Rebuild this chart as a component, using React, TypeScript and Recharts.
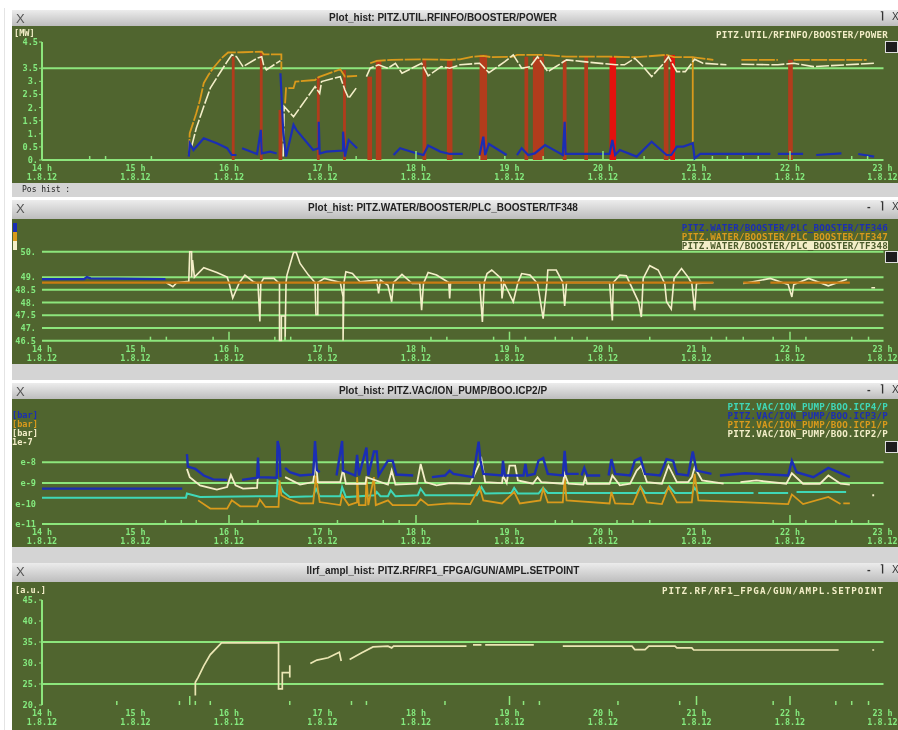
import { CartesianGrid, Line, LineChart, ReferenceArea, XAxis, YAxis } from 'recharts';

type Pt = [number, number | null];

const hours = [14, 15, 16, 17, 18, 19, 20, 21, 22, 23];
const dateLabel = '1.8.12';

// booster power [MW]
const powerTicks = [0, 0.5, 1, 1.5, 2, 2.5, 3, 3.5, 4.5];
const powerMinor = [14.51, 14.68, 15.17, 17.36, 18.68, 18.95, 19.36, 20.44, 21.17, 21.33, 21.5, 21.66, 22.66, 22.83];
const powerMajor = [18, 20, 22];
const brownPulses: [number, number, number][] = [
    [16.03, 16.06, 3.94], [16.33, 16.36, 4.13], [16.53, 16.57, 1.91], [16.94, 16.97, 3.18], [17.22, 17.25, 3.43],
    [17.48, 17.53, 3.18], [17.57, 17.63, 3.82], [18.07, 18.11, 3.82], [18.33, 18.39, 3.82], [18.68, 18.76, 4.01],
    [19.16, 19.2, 3.94], [19.25, 19.37, 3.94], [19.57, 19.61, 3.82], [19.8, 19.84, 3.94], [20.65, 20.7, 4.01],
    [21.98, 22.03, 3.82],
];
const brightPulses: [number, number, number][] = [[20.07, 20.14, 3.94], [20.72, 20.77, 4.01]];
const powerOrange: Pt[] = [
    [15.57, 0.19], [15.58, 1.02], [15.65, 1.78], [15.69, 2.29], [15.73, 2.93], [15.78, 3.24], [15.83, 3.5], [15.92, 3.88],
    [15.99, 4.1], [16.15, 4.11], [16.35, 4.13], [16.37, 4.03], [16.56, 4.03], [16.56, 3.44], [16.58, null],
    [16.6, 2.16], [16.61, 2.74], [16.69, 2.74], [16.71, 2.99], [16.92, 3.05], [16.96, 3.16], [17.19, 3.46], [17.24, 3.18],
    [17.37, 3.21], [17.4, null],
    [17.51, 3.69], [17.58, 3.78], [17.74, 3.82], [18.06, 3.84], [18.36, 3.82], [18.47, 3.84], [18.61, 3.94], [18.72, 3.97],
    [18.81, 3.92], [19.04, 3.94], [19.08, 4.01], [19.36, 4.01], [19.61, 3.94], [20.07, 3.94], [20.36, 3.92], [20.68, 4.01],
    [20.76, 3.92], [20.96, 3.92], [20.96, 0.7], [20.96, 3.92], [21.18, 3.82], [21.3, null],
    [21.48, 3.82], [21.87, 3.82], [21.9, null],
    [22.04, 3.82], [22.82, 3.82],
];
const powerCream: Pt[] = [
    [15.6, 0.51], [15.65, 1.21], [15.73, 2.04], [15.8, 2.74], [15.9, 3.31], [15.98, 3.75], [16.03, 4.01], [16.08, 3.94],
    [16.15, 3.56], [16.3, 3.88], [16.35, 3.94], [16.37, 3.63], [16.4, 3.44], [16.55, 3.79], [16.57, null],
    [16.58, 0.13], [16.59, 2.04], [16.69, 1.65], [16.92, 2.8], [16.97, 2.54], [16.99, 2.99], [17.19, 3.18], [17.24, 2.67],
    [17.28, 2.35], [17.36, 2.74], [17.4, null],
    [17.47, 3.18], [17.51, 3.5], [17.6, 3.63], [17.7, 3.5], [17.78, 3.69], [17.85, 3.31], [18.06, 3.69], [18.13, 3.21],
    [18.27, 3.56], [18.36, 3.5], [18.47, 3.63], [18.68, 3.69], [18.78, 3.33], [18.95, 3.75], [19.04, 4.01], [19.13, 3.5],
    [19.22, 3.56], [19.3, 3.94], [19.41, 3.37], [19.61, 3.82], [19.79, 3.75], [20.14, 3.63], [20.23, 3.63], [20.34, 3.88],
    [20.43, 3.56], [20.52, 3.18], [20.65, 3.69], [20.7, 3.94], [20.79, 3.37], [20.88, 3.37], [20.98, 3.84], [21.07, 3.69],
    [21.32, 3.63], [21.4, null],
    [21.48, 3.65], [21.87, 3.63], [22.04, 3.69], [22.25, 3.56], [22.9, 3.69],
];
const powerBlue: Pt[] = [
    [15.57, 0.13], [15.58, 0.64], [15.62, 0.38], [15.73, 0.83], [15.87, 0.64], [15.98, 0.45], [16.03, 0.19], [16.08, 0.19],
    [16.1, null],
    [16.14, 0.45], [16.3, 0.23], [16.34, 1.15], [16.35, 0.25], [16.44, 0.32], [16.51, 0.25], [16.53, null],
    [16.55, 3.31], [16.58, 1.08], [16.61, 0.13], [16.69, 1.34], [16.72, 1.15], [16.9, 0.38], [16.96, 0.45], [16.96, 1.46],
    [16.97, 0.25], [17.04, 0.32], [17.22, 0.36], [17.22, 1.08], [17.24, 0.13], [17.28, 0.76], [17.37, 0.45], [17.5, null],
    [17.76, 0.19], [17.83, 0.45], [18.01, 0.25], [18.08, 0.19], [18.13, 0.55], [18.26, 0.32], [18.36, 0.23], [18.5, 0.23],
    [18.6, null],
    [18.68, 0.19], [18.72, 0.89], [18.74, 0.19], [18.78, 0.61], [18.97, 0.19], [19.02, null],
    [19.08, 0.19], [19.13, 0.45], [19.2, 0.19], [19.27, 0.25], [19.38, 0.57], [19.57, 0.19], [19.59, 1.46], [19.6, 0.23],
    [20.07, 0.23], [20.1, 0.76], [20.13, 0.19], [20.18, 0.38], [20.36, 0.13], [20.52, 0.7], [20.68, 0.19], [20.73, 0.19],
    [20.79, 0.51], [20.86, 0.51], [20.96, 0.64], [20.98, 0.06], [21.04, 0.23], [21.79, 0.23], [21.82, null],
    [21.87, 0.23], [22.14, 0.23], [22.2, null],
    [22.28, 0.19], [22.55, 0.25], [22.65, null],
    [22.73, 0.23], [22.9, 0.13],
];

// booster water temperature
const waterTicks = [46.5, 47, 47.5, 48, 48.5, 49, 50];
const waterMinor = [15.16, 15.33, 15.83, 16.49, 16.6, 16.66, 18.16, 18.33, 18.83, 19.17, 19.49, 19.67, 19.83, 20.5, 21.16, 21.32, 21.5, 21.82, 22.17, 22.66, 22.84];
const waterMajor = [16, 19, 22];
const waterBlue: Pt[] = [[14, 48.92], [14.45, 48.92], [14.48, 49], [14.52, 48.95], [15.32, 48.92]];
const waterOrange: Pt[] = [[14, 48.78], [21.18, 48.78], [21.3, null], [21.5, 48.78], [21.68, 48.78], [21.72, null], [21.79, 48.78], [22.64, 48.78]];
const waterCream: Pt[] = [
    [15.33, 48.78], [15.4, 48.62], [15.44, 48.78], [15.57, 48.84], [15.58, 50], [15.6, 50], [15.6, 49], [15.61, 49.67],
    [15.63, 49], [15.73, 49.37], [15.87, 49.18], [15.98, 49], [16, 48.78], [16.04, 48.18], [16.11, 48.78], [16.17, 49.08],
    [16.26, 48.82], [16.31, 48.75], [16.33, 47.26], [16.34, 48.75], [16.37, 48.95], [16.48, 48.95], [16.54, 48.75],
    [16.54, 46.51], [16.56, 46.51], [16.56, 47.47], [16.6, 47.47], [16.6, 46.51], [16.61, 48.79], [16.62, 49.08],
    [16.69, 49.97], [16.72, 49.97], [16.76, 49.54], [16.85, 49.08], [16.92, 48.79], [16.93, 47.53], [16.95, 47.53],
    [16.95, 48.79], [17.02, 48.95], [17.19, 48.79], [17.22, 48.22], [17.22, 46.51], [17.23, 48.79], [17.25, 49.21],
    [17.32, 49.14], [17.4, 48.82], [17.58, 48.88], [17.6, 48.36], [17.62, 48.88], [17.7, 48.68], [17.74, 48.03],
    [17.76, 48.79], [17.85, 49.11], [17.96, 48.75], [18.04, 48.75], [18.06, 47.7], [18.08, 48.75], [18.13, 49.18],
    [18.22, 49.08], [18.35, 48.79], [18.36, 48.16], [18.37, 48.79], [18.68, 48.79], [18.71, 47.24], [18.73, 48.79],
    [18.76, 49.14], [18.81, 49.28], [18.91, 48.95], [18.92, 48.16], [18.94, 48.79], [19.04, 48.03], [19.09, 48.79],
    [19.13, 49.14], [19.22, 49.08], [19.3, 48.75], [19.36, 47.37], [19.4, 48.75], [19.41, 49.28], [19.5, 49.28],
    [19.57, 48.79], [19.59, 47.87], [19.61, 48.79], [20.07, 48.79], [20.1, 47.3], [20.11, 48.79], [20.18, 49.08],
    [20.25, 49.05], [20.38, 48.03], [20.41, 47.43], [20.43, 48.95], [20.5, 49.45], [20.59, 49.28], [20.66, 48.75],
    [20.68, 48.03], [20.73, 47.74], [20.76, 48.95], [20.84, 49.34], [20.91, 49], [20.95, 48.75], [20.98, 47.7],
    [21, 48.75], [21.18, 48.78], [21.3, null],
    [21.5, 48.75], [21.79, 48.95], [21.98, 48.71], [22.02, 48.22], [22.04, 48.71], [22.2, 48.95], [22.41, 48.66],
    [22.61, 48.92], [22.7, null],
    [22.87, 48.58], [22.91, 48.58],
];

// ion pump pressure, log10 of the reading
const vacTicks = [-11, -10, -9, -8];
const vacMinor = [15.32, 15.49, 15.65, 16.14, 16.31, 17.16, 17.65, 17.82, 18.66, 19.49, 19.67, 20.15, 20.32, 20.5, 21.82, 22.17, 22.49, 22.66, 22.84];
const vacMajor = [16, 18, 22];
const vacBlue: Pt[] = [
    [14, -9.28], [15.5, -9.28], [15.53, null],
    [15.55, -7.6], [15.56, -8.21], [15.64, -8.32], [15.73, -8.64], [15.83, -8.83], [15.98, -8.85], [16.05, null],
    [16.14, -8.85], [16.3, -8.75], [16.31, -7.76], [16.32, -8.72], [16.51, -8.75], [16.52, -6.96], [16.54, -7.36],
    [16.55, -8.72], [16.58, null],
    [16.6, -8.27], [16.65, -8.48], [16.76, -8.64], [16.9, -8.59], [16.92, -6.96], [16.94, -8.37], [16.97, -8.48],
    [17.05, null],
    [17.15, -8.64], [17.21, -6.96], [17.22, -8.4], [17.35, -8.64], [17.37, -7.63], [17.39, -8.64], [17.47, -7.28],
    [17.49, -8.64], [17.55, -7.47], [17.58, -7.47], [17.6, -8.64], [17.7, -7.92], [17.75, -7.92], [17.79, -8.59],
    [17.97, -8.64], [18.05, null],
    [18.17, -8.72], [18.31, -8.64], [18.36, -8.4], [18.4, -8.56], [18.61, -8.72], [18.67, -6.99], [18.69, -7.92],
    [18.72, -8.56], [18.92, -8.64], [18.93, -7.92], [18.95, -8.64], [19.05, -8.64], [19.15, -8.64], [19.17, -8.08],
    [19.19, -8.64], [19.27, -8.56], [19.31, -7.92], [19.36, -7.79], [19.41, -8.56], [19.57, -8.64], [19.59, -7.44],
    [19.61, -8.56], [19.74, -8.56], [19.76, null],
    [19.77, -8.64], [19.8, -8.27], [19.83, -8.64], [19.97, -8.64], [20.02, null],
    [20.06, -8.64], [20.09, -7.84], [20.13, -8.56], [20.29, -8.64], [20.34, -7.92], [20.4, -7.79], [20.45, -8.56],
    [20.61, -8.64], [20.68, -7.84], [20.75, -7.92], [20.79, -8.56], [20.91, -8.64], [20.96, -7.47], [21, -8.4],
    [21.16, -8.56], [21.2, null],
    [21.25, -8.64], [21.52, -8.53], [21.98, -8.64], [22.02, -7.92], [22.07, -8.48], [22.25, -8.72], [22.41, -8.27],
    [22.64, -8.72],
];
const vacCream: Pt[] = [
    [15.55, -8.32], [15.58, -8.72], [15.69, -9.12], [15.87, -9.33], [15.98, -9.2], [16.02, -8.61], [16.07, -9.12],
    [16.15, -9.28], [16.3, -9.24], [16.31, -8.64], [16.35, null],
    [16.6, -8.72], [16.76, -9.08], [16.9, -8.96], [16.93, -8], [16.95, -8.96], [17.19, -8.96], [17.22, -8.32],
    [17.25, -9.04], [17.46, -9.04], [17.47, -8.72], [17.7, -9.08], [17.74, -8.4], [17.78, -9.08], [18.01, -9.04],
    [18.05, -8.08], [18.1, -8.96], [18.22, -9.12], [18.36, -9.01], [18.58, -9.04], [18.7, -7.84], [18.74, -8.96],
    [18.92, -9.01], [18.93, -8.64], [18.97, -9.01], [19, -8.16], [19.06, -8.16], [19.09, -8.88], [19.25, -9.04],
    [19.3, -8.72], [19.34, -8.96], [19.57, -9.04], [19.59, -8.56], [19.63, -9.04], [19.79, -9.08], [19.81, -8.72],
    [19.83, -9.04], [20.07, -9.04], [20.1, -8.64], [20.18, -9.12], [20.29, -9.04], [20.36, -8.4], [20.41, -8.16],
    [20.47, -8.96], [20.63, -9.04], [20.7, -8.16], [20.79, -8.96], [20.91, -8.96], [20.95, -8.72], [20.98, -8.24],
    [21.06, -8.88], [21.29, -9.04], [21.4, null],
    [21.47, -8.96], [21.64, -8.88], [21.96, -9.04], [22.02, -8.53], [22.14, -9.04], [22.32, -9.04], [22.41, -8.64],
    [22.54, -9.04], [22.64, -9.08], [22.7, null],
    [22.88, -9.6], [22.9, -9.6],
];
const vacCyan: Pt[] = [
    [14, -9.72], [15.54, -9.72], [15.55, -9.52], [15.69, -9.69], [16.3, -9.65], [16.51, -9.65], [16.52, -8.88],
    [16.58, -9.44], [16.65, -9.69], [16.9, -9.65], [16.93, -9.28], [16.97, -9.65], [17.19, -9.65], [17.21, -9.2],
    [17.25, -9.69], [17.56, -9.6], [17.58, -9.44], [17.62, -9.65], [17.7, -9.65], [17.73, -9.36], [17.78, -9.65],
    [18.02, -9.6], [18.05, -9.28], [18.1, -9.6], [18.31, -9.6], [18.65, -9.6], [18.7, -9.2], [18.74, -9.52],
    [19.02, -9.49], [19.05, -9.24], [19.09, -9.52], [19.31, -9.52], [19.36, -9.24], [19.41, -9.49], [20.36, -9.49],
    [20.4, -9.17], [20.45, -9.49], [20.66, -9.49], [20.71, -9.17], [20.77, -9.49], [20.95, -9.49], [20.98, -9.24],
    [21.02, -9.49], [21.61, -9.49], [21.63, null],
    [21.66, -9.49], [21.98, -9.49], [22.02, null],
    [22.07, -9.44], [22.39, -9.44], [22.6, -9.44],
];
const vacOrange: Pt[] = [
    [15.67, -9.85], [15.8, -10.25], [15.98, -10.25], [16.03, -9.85], [16.12, -10.14], [16.3, -10.14], [16.33, -9.81],
    [16.39, -10.17], [16.53, -10.17], [16.54, -8.88], [16.56, -9.6], [16.62, -9.76], [16.76, -10], [16.9, -10],
    [16.93, -8.64], [16.97, -9.93], [17.19, -10.08], [17.21, -9.6], [17.28, -10.08], [17.37, -9.95], [17.37, -8.72],
    [17.39, -10.08], [17.46, -10.08], [17.47, -8.72], [17.49, -10.08], [17.55, -8.72], [17.57, -10.08], [17.7, -9.85],
    [17.75, -10.08], [18, -10.08], [18.05, -9.8], [18.13, -10.08], [18.36, -10], [18.58, -10.03], [18.68, -9.2],
    [18.72, -9.85], [18.92, -10], [19.05, -9.44], [19.11, -10], [19.33, -9.85], [19.36, -9.28], [19.41, -9.95],
    [19.57, -9.95], [19.59, -8.72], [19.61, -9.85], [20.07, -10], [20.09, -9.44], [20.13, -10], [20.32, -10.03],
    [20.4, -9.2], [20.47, -9.95], [20.63, -10.03], [20.7, -9.2], [20.79, -9.95], [20.95, -9.95], [20.98, -8.56],
    [21.02, -9.85], [21.98, -10.03], [22.02, -9.56], [22.14, -10.03], [22.41, -9.68], [22.54, -10.03], [22.56, null],
    [22.57, -10], [22.64, -10],
];

// gun amplitude setpoint
const amplTicks = [20, 25, 30, 35, 40, 45];
const amplMinor = [14.8, 15.47, 15.64, 15.8, 16.65, 17.31, 17.47, 18.31, 19.15, 19.32, 20.16, 20.82, 21.82, 22.49, 22.66, 22.84];
const amplMajor = [15.58, 19, 21, 22];
const amplCream: Pt[] = [
    [15.64, 22.27], [15.64, 25.4], [15.67, 26.56], [15.73, 29.3], [15.8, 32], [15.92, 34.77], [16.51, 34.77], [16.53, 34.77],
    [16.53, 23.83], [16.57, 23.83], [16.57, 27.73], [16.65, 27.73], [16.65, 29.45], [16.65, 26.56], [16.7, null],
    [16.87, 29.9], [16.94, 30.7], [17.06, 31.25], [17.18, 32.58], [17.2, 30.47], [17.25, null],
    [17.29, 30.86], [17.42, 32.42], [17.54, 33.83], [17.7, 34], [17.74, 33.6], [17.76, 34], [18.36, 34], [18.54, 34],
    [18.58, null],
    [18.61, 34.3], [18.7, 34.3], [18.72, null],
    [18.74, 34.3], [19.26, 34.3], [19.4, null],
    [19.57, 34], [20.31, 34], [20.34, 33.2], [20.45, 33.2], [20.49, 34], [20.77, 34], [20.79, 33.6], [20.95, 33.6],
    [20.97, 33.1], [22.52, 33.1], [22.6, null],
    [22.88, 33.1], [22.9, 33.1],
];

const GREEN = '#8ce67c';
const TEXT = '#84ea7e';
const PLOT = '#50652f';
const BLUE = '#1b2eb4';
const ORANGE = '#d99a1c';
const CREAM = '#f3eec8';
const CYAN = '#3fd8b8';
const MONO = '"DejaVu Sans Mono", monospace';

const pts = (s: Pt[]) => s.map(([t, v]) => ({ t, v }));

function TimeTick({ x, y, payload, major }: any) {
    const value = payload.value as number;
    const isHour = Number.isInteger(value);
    const showLine = !isHour || major.includes(value);
    const len = major.includes(value) ? 9 : 4;
    // the last label has to stay inside the window
    const labelX = value === 23 ? x - 1 : x;
    return (
        <g>
            {showLine && <line x1={x} x2={x} y1={y} y2={y - len} stroke={GREEN} strokeWidth={1.5} />}
            {isHour && (
                <text fontFamily={MONO} fontSize={8.4} fontWeight="bold" fill={TEXT} textAnchor="middle">
                    <tspan x={labelX} y={y + 11}>{value} h</tspan>
                    <tspan x={labelX} y={y + 20}>{dateLabel}</tspan>
                </text>
            )}
        </g>
    );
}

function Chrome({ top, height, title, dash = true }: { top: number; height: number; title: string; dash?: boolean }) {
    return (
        <div style={{
            position: 'absolute', left: 12, top, width: 886, height, boxSizing: 'border-box',
            background: 'linear-gradient(#ececec, #bdbdbd)', fontFamily: '"Liberation Sans", sans-serif',
        }}>
            <span style={{ position: 'absolute', left: 4, top: 1, fontSize: 13, color: '#555' }}>X</span>
            <div style={{ position: 'absolute', left: 0, width: 862, top: 2, textAlign: 'center', fontSize: 10, fontWeight: 'bold', color: '#222' }}>{title}</div>
            {dash && <span style={{ position: 'absolute', left: 855, top: 0, fontSize: 11, fontWeight: 'bold', color: '#333' }}>-</span>}
            <span style={{ position: 'absolute', left: 868, top: 0, fontSize: 10, fontWeight: 'bold', color: '#333' }}>⌉</span>
            <span style={{ position: 'absolute', left: 880, top: 1, fontSize: 10, color: '#333' }}>X</span>
        </div>
    );
}

function Tag({ top, right, color, back, spacing = '0.2px', children }: any) {
    return (
        <div style={{
            position: 'absolute', top, right, fontFamily: MONO, fontSize: 9.2, fontWeight: 'bold', lineHeight: '9px',
            color, background: back, letterSpacing: spacing, whiteSpace: 'nowrap',
        }}>{children}</div>
    );
}

function Side({ top, left, color, children }: any) {
    return (
        <div style={{ position: 'absolute', top, left, fontFamily: MONO, fontSize: 8.6, fontWeight: 'bold', lineHeight: '9px', color }}>{children}</div>
    );
}

function Box({ top }: { top: number }) {
    return <div style={{ position: 'absolute', left: 885, top, width: 13, height: 12, background: '#1d1d1d', border: '1px solid #ddd', boxSizing: 'border-box' }} />;
}

function Plot({ top, height, marginTop, axisHeight, domain, yTicks, grid, minor, major, yFormat, axisLines, children }: any) {
    return (
        <div style={{ position: 'absolute', left: 12, top, width: 886, height, background: PLOT }}>
            <LineChart width={886} height={height} margin={{ top: marginTop, right: 14.5, left: 0, bottom: 0 }}>
                <CartesianGrid vertical={false} horizontalValues={grid} stroke={GREEN} strokeWidth={2} />
                <XAxis
                    type="number"
                    dataKey="t"
                    domain={[14, 23]}
                    ticks={[...hours, ...minor, ...major.filter((m: number) => !hours.includes(m))]}
                    interval={0}
                    height={axisHeight}
                    tickSize={0}
                    tickMargin={0}
                    tickLine={false}
                    axisLine={false}
                    tick={(props: any) => <TimeTick {...props} major={major} />}
                    allowDuplicatedCategory={false}
                />
                <YAxis
                    type="number"
                    domain={domain}
                    ticks={yTicks}
                    interval={0}
                    width={30}
                    tickSize={axisLines ? 3 : 0}
                    tickMargin={axisLines ? 1 : 6}
                    tickLine={axisLines ? { stroke: GREEN } : false}
                    axisLine={axisLines ? { stroke: GREEN, strokeWidth: 2 } : false}
                    tick={{ fill: TEXT, fontSize: 8.6, fontFamily: MONO, fontWeight: 'bold' }}
                    tickFormatter={yFormat}
                />
                {children}
            </LineChart>
        </div>
    );
}

const series = (data: Pt[], color: string, width: number, dash?: string) => (
    <Line
        data={pts(data)}
        dataKey="v"
        stroke={color}
        strokeWidth={width}
        strokeDasharray={dash}
        dot={false}
        activeDot={false}
        connectNulls={false}
        isAnimationActive={false}
    />
);

const plainNumber = (v: number) => (Number.isInteger(v) ? `${v}.` : `${v}`);

export default function App() {
    document.body.style.margin = '0';
    return (
        <div style={{ position: 'relative', width: 898, height: 730, background: '#fff', overflow: 'hidden', filter: 'blur(0.6px)' }}>
            <div style={{ position: 'absolute', left: 4, top: 8, width: 1, height: 722, background: '#e4e4e4' }} />

            <Chrome top={10} height={16} dash={false} title="Plot_hist: PITZ.UTIL.RFINFO/BOOSTER/POWER" />
            <Plot top={26} height={157} marginTop={16} axisHeight={23} domain={[0, 4.5]} yTicks={powerTicks} grid={[0, 3.5]}
                minor={powerMinor} major={powerMajor} yFormat={plainNumber} axisLines>
                {brownPulses.map(([a, b, h]) => (
                    <ReferenceArea key={a} x1={a} x2={b} y1={0} y2={h} fill="#b23c1c" fillOpacity={1} stroke="none" />
                ))}
                {brightPulses.map(([a, b, h]) => (
                    <ReferenceArea key={a} x1={a} x2={b} y1={0} y2={h} fill="#e4120e" fillOpacity={1} stroke="none" />
                ))}
                {series(powerOrange, ORANGE, 1.8, '16 1.5')}
                {series(powerCream, CREAM, 1.6, '13 2')}
                {series(powerBlue, BLUE, 2.2)}
            </Plot>
            <Tag top={30} right={10} color={CREAM}>PITZ.UTIL/RFINFO/BOOSTER/POWER</Tag>
            <Side top={29} left={14} color={CREAM}>[MW]</Side>
            <Box top={41} />
            <div style={{ position: 'absolute', left: 12, top: 183, width: 886, height: 14, background: '#d4d4d4', fontFamily: MONO, fontSize: 8, color: '#222', lineHeight: '14px', paddingLeft: 10 }}>Pos hist :</div>

            <Chrome top={200} height={19} title="Plot_hist: PITZ.WATER/BOOSTER/PLC_BOOSTER/TF348" />
            <Plot top={219} height={145} marginTop={32.7} axisHeight={23.3} domain={[46.5, 50]} yTicks={waterTicks} grid={waterTicks.concat([])}
                minor={waterMinor} major={waterMajor} yFormat={plainNumber}>
                {series(waterBlue, BLUE, 2.4)}
                {series(waterCream, CREAM, 1.6)}
                {series(waterOrange, '#c97c12', 2.2)}
            </Plot>
            <Tag top={223} right={10} color={BLUE}>PITZ.WATER/BOOSTER/PLC_BOOSTER/TF346</Tag>
            <Tag top={232} right={10} color={ORANGE}>PITZ.WATER/BOOSTER/PLC_BOOSTER/TF347</Tag>
            <Tag top={241} right={10} color="#4a5a2a" back={CREAM}>PITZ.WATER/BOOSTER/PLC_BOOSTER/TF348</Tag>
            <div style={{ position: 'absolute', left: 13, top: 223, width: 4, height: 9, background: BLUE }} />
            <div style={{ position: 'absolute', left: 13, top: 232, width: 4, height: 9, background: ORANGE }} />
            <div style={{ position: 'absolute', left: 13, top: 241, width: 4, height: 9, background: CREAM }} />
            <Box top={251} />
            <div style={{ position: 'absolute', left: 12, top: 364, width: 886, height: 16, background: '#d4d4d4' }} />

            <Chrome top={383} height={16} title="Plot_hist: PITZ.VAC/ION_PUMP/BOO.ICP2/P" />
            <Plot top={399} height={148} marginTop={42} axisHeight={23} domain={[-11, -7]} yTicks={vacTicks} grid={[-11, -9, -8]}
                minor={vacMinor} major={vacMajor} yFormat={(v: number) => `e${v}`}>
                {series(vacCyan, CYAN, 2)}
                {series(vacOrange, ORANGE, 1.8)}
                {series(vacCream, CREAM, 1.8)}
                {series(vacBlue, BLUE, 2.4)}
            </Plot>
            <Tag top={402} right={10} color={CYAN}>PITZ.VAC/ION_PUMP/BOO.ICP4/P</Tag>
            <Tag top={411} right={10} color={BLUE}>PITZ.VAC/ION_PUMP/BOO.ICP3/P</Tag>
            <Tag top={420} right={10} color={ORANGE}>PITZ.VAC/ION_PUMP/BOO.ICP1/P</Tag>
            <Tag top={429} right={10} color={CREAM}>PITZ.VAC/ION_PUMP/BOO.ICP2/P</Tag>
            <Side top={411} left={12} color={BLUE}>[bar]</Side>
            <Side top={420} left={12} color={ORANGE}>[bar]</Side>
            <Side top={429} left={12} color={CREAM}>[bar]</Side>
            <Side top={438} left={12} color={CREAM}>1e-7</Side>
            <Box top={441} />
            <div style={{ position: 'absolute', left: 12, top: 547, width: 886, height: 16, background: '#d4d4d4' }} />

            <Chrome top={563} height={19} title="llrf_ampl_hist: PITZ.RF/RF1_FPGA/GUN/AMPL.SETPOINT" />
            <Plot top={582} height={148} marginTop={18} axisHeight={25} domain={[20, 45]} yTicks={amplTicks} grid={[25, 35]}
                minor={amplMinor} major={amplMajor} yFormat={plainNumber} axisLines>
                {series(amplCream, '#ebe6b4', 1.7)}
            </Plot>
            <Tag top={586} right={14} color={CREAM} spacing="1px">PITZ.RF/RF1_FPGA/GUN/AMPL.SETPOINT</Tag>
            <Side top={586} left={15} color={CREAM}>[a.u.]</Side>
        </div>
    );
}
